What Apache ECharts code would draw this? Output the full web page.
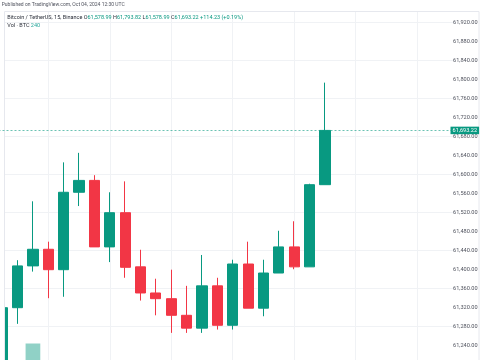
<!DOCTYPE html>
<html><head><meta charset="utf-8">
<script src="https://cdn.jsdelivr.net/npm/echarts@6/dist/echarts.min.js"></script>
<style>html,body{margin:0;padding:0;background:#fff}#c{width:485px;height:360px}</style>
</head><body><div id="c"></div>
<script>
// 15-minute slots (the last 8 are empty space on the right)
const categories = ['07:00','07:15','07:30','07:45','08:00','08:15','08:30','08:45','09:00','09:15',
  '09:30','09:45','10:00','10:15','10:30','10:45','11:00','11:15','11:30','11:45',
  '12:00','12:15','12:30','12:45','13:00','13:15','13:30','13:45','14:00','14:15'];
// [open, close, low, high]
const ohlc = [
  [61195, 61320, 61185, 61321],
  [61320, 61408, 61286, 61420],
  [61408, 61443, 61396, 61544],
  [61443, 61400, 61340, 61459],
  [61400, 61563, 61343, 61626],
  [61563, 61588, 61534, 61646],
  [61588, 61448, 61448, 61599],
  [61448, 61520, 61416, 61563],
  [61520, 61405, 61383, 61586],
  [61406, 61351, 61335, 61442],
  [61351, 61339, 61304, 61381],
  [61339, 61304, 61267, 61400],
  [61304, 61277, 61267, 61366],
  [61277, 61366, 61267, 61431],
  [61366, 61283, 61274, 61383],
  [61283, 61412, 61274, 61421],
  [61412, 61319, 61319, 61459],
  [61319, 61393, 61302, 61421],
  [61393, 61448, 61393, 61482],
  [61448, 61406, 61401, 61502],
  [61406, 61578.99, 61406, 61581],
  [61578.99, 61693.22, 61578.99, 61793.82]
];
// volume (BTC); only the visible / stated bars
const volumes = [null, null, 450, null, null, null, null, null, null, null, null,
  null, null, null, null, null, null, null, null, null, null, 240];
const priceMin = 61200, priceMax = 61960, priceStep = 40, gridStep = 80;
const lastPrice = 61693.22;

const UP = '#089981', DOWN = '#f23645';
const FONT = 'Roboto';
const fmt = v => Number(v).toLocaleString('en-US', {minimumFractionDigits: 2, maximumFractionDigits: 2});

const GL = -5.49, GW = 461.1;
const chart = echarts.init(document.getElementById('c'));
chart.setOption({
  animation: false,
  backgroundColor: '#fff',
  title: [
    {text: 'Published on TradingView.com, Oct 04, 2024 12:30 UTC', left: 1.7, top: 1.8, padding: 0, z: 20,
     textStyle: {fontSize: 5.0, color: '#50535e', fontWeight: 'normal', fontFamily: FONT}},
    {text: '{d|Bitcoin / TetherUS, 15, Binance} {d|O}{g|61,578.99} {d|H}{g|61,793.82} {d|L}{g|61,578.99} {d|C}{g|61,693.22} {g|+114.23 (+0.19%)}',
     left: 7.3, top: 15, padding: 0, z: 20,
     textStyle: {fontSize: 5.5, fontFamily: FONT, fontWeight: 'normal',
       rich: {d: {color: '#2a2e39', fontSize: 5.5, fontFamily: FONT}, g: {color: UP, fontSize: 5.5, fontFamily: FONT}}}},
    {text: '{d|Vol · BTC} {v|240}', left: 7.3, top: 22.4, padding: 0, z: 20,
     textStyle: {fontSize: 5.5, fontFamily: FONT, fontWeight: 'normal',
       rich: {d: {color: '#2a2e39', fontSize: 5.5, fontFamily: FONT}, v: {color: '#26a69a', fontSize: 5.5, fontFamily: FONT}}}}
  ],
  grid: [
    {left: GL, top: 3.7, width: GW, height: 361, outerBoundsMode: 'none', containLabel: false},
    {left: GL, top: 250, width: GW, height: 170, outerBoundsMode: 'none', containLabel: false}
  ],
  xAxis: [
    {type: 'category', gridIndex: 0, data: categories, boundaryGap: true,
     axisLine: {show: false}, axisTick: {show: false}, axisLabel: {show: false},
     splitLine: {show: true, alignWithLabel: true, interval: (i) => i % 4 === 3,
       lineStyle: {color: '#f0f2f5', width: 1}}},
    {type: 'category', gridIndex: 1, data: categories, boundaryGap: true, show: false}
  ],
  yAxis: [
    {type: 'value', gridIndex: 0, position: 'right', offset: -6.6, min: priceMin, max: priceMax, interval: priceStep,
     axisLine: {show: false}, axisTick: {show: false}, splitLine: {show: false},
     axisLabel: {show: true, margin: 4, fontSize: 5.6, color: '#50535e', fontFamily: FONT,
       showMinLabel: false, showMaxLabel: false, formatter: v => fmt(v)},
     axisPointer: {show: true, type: 'line', value: lastPrice, status: 'show', snap: false, triggerTooltip: false,
       lineStyle: {color: UP, type: [2, 2], width: 1, opacity: 0.6},
       label: {show: true, formatter: p => fmt(p.value), backgroundColor: UP, color: '#fff',
         padding: [1, 2, 0.5, 2], margin: 1.5, fontSize: 5.6, fontFamily: FONT, borderRadius: 0}}},
    {type: 'value', gridIndex: 0, position: 'right', min: priceMin, max: priceMax, interval: gridStep,
     axisLine: {show: false}, axisTick: {show: false}, axisLabel: {show: false},
     splitLine: {show: true, lineStyle: {color: '#f0f2f5', width: 1}}},
    {type: 'value', gridIndex: 1, min: 0, max: 1000, show: false, splitLine: {show: false}}
  ],
  series: [
    {type: 'candlestick', xAxisIndex: 0, yAxisIndex: 0, data: ohlc, barWidth: 10.7, z: 3,
     itemStyle: {color: UP, color0: DOWN, borderColor: UP, borderColor0: DOWN, borderWidth: 1}},
    {type: 'bar', xAxisIndex: 1, yAxisIndex: 2, data: volumes, barWidth: 14.7, z: 2,
     itemStyle: {color: 'rgba(8,153,129,0.45)'}}
  ],
  graphic: [
    {type: 'rect', shape: {x: 0, y: 0, width: 485, height: 12}, style: {fill: '#fff'}, z: 10, silent: true},
    {type: 'rect', shape: {x: 0, y: 0, width: 4, height: 360}, style: {fill: '#fff'}, z: 10, silent: true},
    {type: 'rect', shape: {x: 4.5, y: 11.5, width: 474.5, height: 360}, style: {fill: 'none', stroke: '#e6e8ee', lineWidth: 1}, z: 11, silent: true}
  ]
});
</script></body></html>
